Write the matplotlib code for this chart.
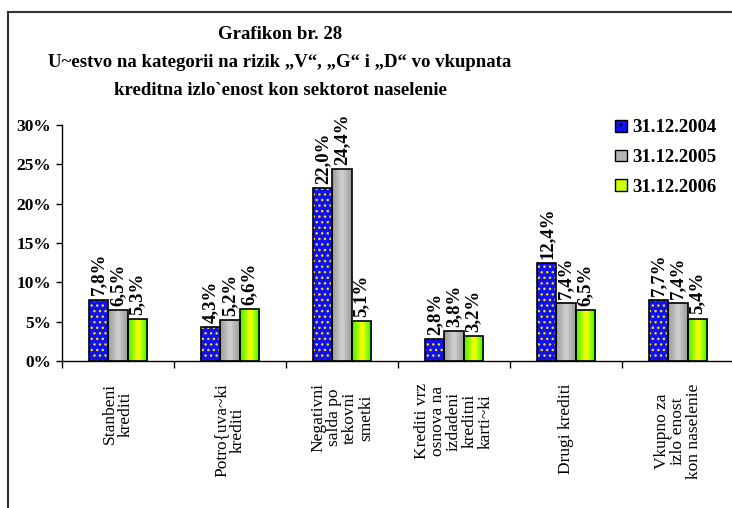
import numpy as np
import matplotlib
matplotlib.use('Agg')
import matplotlib.pyplot as plt
from matplotlib.lines import Line2D
from matplotlib.patches import Patch
from matplotlib.ticker import FuncFormatter

categories = ['Stanbeni\nkrediti',
              'Potro{uva~ki\nkrediti',
              'Negativni\nsalda po\ntekovni\nsmetki',
              'Krediti vrz\nosnova na\nizdadeni\nkreditni\nkarti~ki',
              'Drugi krediti',
              'Vkupno za\nizlo`enost\nkon naselenie']
series = ['31.12.2004', '31.12.2005', '31.12.2006']
v2004 = [7.8, 4.3, 22.0, 2.8, 12.4, 7.7]
v2005 = [6.5, 5.2, 24.4, 3.8, 7.4, 7.4]
v2006 = [5.3, 6.6, 5.1, 3.2, 6.5, 5.4]
yticks = [0, 5, 10, 15, 20, 25, 30]

title = ('Grafikon br. 28\n'
         'U~estvo na kategorii na rizik \u201eV\u201c, \u201eG\u201c i \u201eD\u201c vo vkupnata\n'
         'kreditna izlo`enost kon sektorot naselenie')

serif = ['Liberation Serif', 'DejaVu Serif']

fig = plt.figure(figsize=(7.32, 5.08), dpi=100)
W, H = 732, 508
ax = fig.add_axes([62 / W, 147 / H, 672 / W, 236 / H])

x = np.arange(len(categories)) + 0.5
bw = 0.17

# 2004: blue with yellow dots
ax.bar(x - bw, v2004, bw, color='#1010f0', edgecolor='#f0e000', hatch='...', linewidth=0, zorder=2)
ax.bar(x - bw, v2004, bw, fill=False, edgecolor='black', linewidth=1.2, zorder=3)
# 2005: grey
b05 = ax.bar(x, v2005, bw, color='#b4b4b4', linewidth=0, zorder=2)
ax.bar(x, v2005, bw, fill=False, edgecolor='black', linewidth=1.2, zorder=3)
# 2006: green with yellow centre
b06 = ax.bar(x + bw, v2006, bw, color='#44ff00', linewidth=0, zorder=2)
ax.bar(x + bw, v2006, bw, fill=False, edgecolor='black', linewidth=1.2, zorder=3)

grad = 1 - np.abs(np.linspace(-1, 1, 64))
cmap = matplotlib.colors.LinearSegmentedColormap.from_list('g', ['#22ff00', '#ffff00'])
for p in b06:
    x0, y0 = p.get_x(), p.get_y()
    im = ax.imshow(grad[np.newaxis, :], cmap=cmap, aspect='auto', interpolation='bilinear',
                   extent=[x0, x0 + p.get_width(), y0, y0 + p.get_height()], zorder=2.5)
    im.set_clip_path(p)
gcmap = matplotlib.colors.LinearSegmentedColormap.from_list('gr', ['#8c8c8c', '#d2d2d2'])
for p in b05:
    g = 1 - np.abs(np.linspace(-1, 1, 64)) * 0.8
    x0, y0 = p.get_x(), p.get_y()
    im = ax.imshow(g[np.newaxis, :], cmap=gcmap, vmin=0, vmax=1, aspect='auto', interpolation='bilinear',
                   extent=[x0, x0 + p.get_width(), y0, y0 + p.get_height()], zorder=2.5)
    im.set_clip_path(p)

for off, vals in [(-bw, v2004), (0, v2005), (bw, v2006)]:
    for xi, v in zip(x + off, vals):
        ax.annotate(('%.1f%%' % v).replace('.', ','), (xi, v), xytext=(0, 3),
                    textcoords='offset points', rotation=90, ha='center', va='bottom',
                    fontsize=13.5, fontweight='bold', family=serif)

ax.set_xlim(0, 6)
ax.set_ylim(0, 30)
ax.set_yticks(yticks)
ax.yaxis.set_major_formatter(FuncFormatter(lambda v, p: '%d%%' % v))
for lab in ax.get_yticklabels():
    lab.set_fontweight('bold')
    lab.set_family(serif)
    lab.set_fontsize(12.5)
ax.tick_params(axis='y', direction='out', length=4, width=1, pad=4)

ax.set_xticks(np.arange(0, 7))
ax.set_xticklabels([])
ax.tick_params(axis='x', which='major', direction='out', length=5, width=1)
ax.set_xticks(x, categories, minor=True)
ax.tick_params(axis='x', which='minor', length=0, pad=16)
for lab in ax.get_xticklabels(minor=True):
    lab.set_rotation(90)
    lab.set_va('top')
    lab.set_ha('center')
    lab.set_multialignment('center')
    lab.set_family(serif)
    lab.set_fontsize(12.5)
    lab.set_linespacing(1.0)

for s in ['top', 'right']:
    ax.spines[s].set_visible(False)
ax.spines['left'].set_linewidth(1)
ax.spines['bottom'].set_linewidth(1)

handles = [Patch(facecolor='#1010f0', edgecolor='black', hatch='..'),
           Patch(facecolor='#b4b4b4', edgecolor='black'),
           Patch(facecolor='#ccff00', edgecolor='black')]
leg = ax.legend(handles, series, loc='upper left', bbox_to_anchor=(606 / W, 398 / H),
                bbox_transform=fig.transFigure, frameon=False, handlelength=0.6, handleheight=0.6,
                handletextpad=0.3, labelspacing=0.68, borderpad=0,
                prop={'family': serif, 'weight': 'bold', 'size': 13.5})

fig.text(280 / W, 1 - 26 / H, title, ha='center', va='top', fontsize=13.5,
         fontweight='bold', family=serif, linespacing=1.86)

# outer frame
fig.add_artist(Line2D([8 / W, 8 / W], [0, 1 - 12 / H], color='#333333', lw=1.5))
fig.add_artist(Line2D([8 / W, 1], [1 - 12 / H, 1 - 12 / H], color='#333333', lw=1.5))

fig.savefig('out.png', dpi=100)
